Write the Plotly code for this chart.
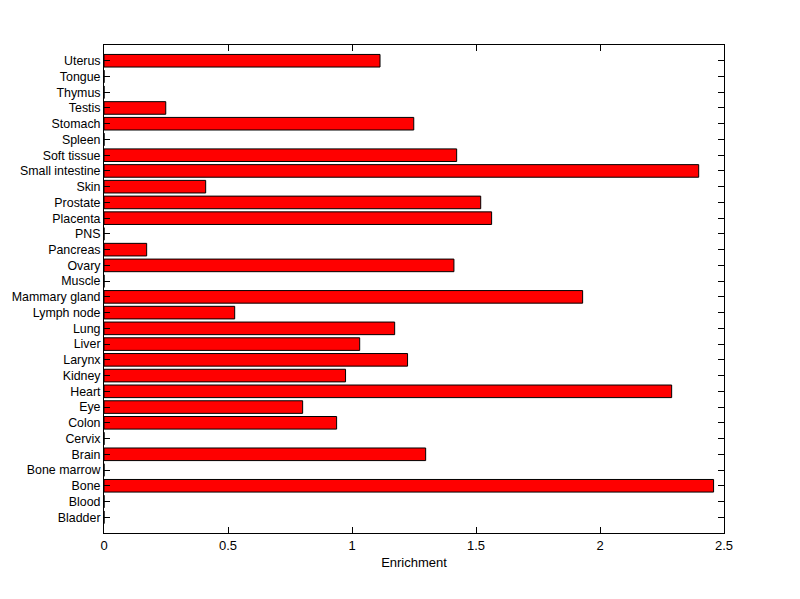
import plotly.graph_objects as go

categories = ["Bladder", "Blood", "Bone", "Bone marrow", "Brain", "Cervix", "Colon", "Eye",
              "Heart", "Kidney", "Larynx", "Liver", "Lung", "Lymph node", "Mammary gland",
              "Muscle", "Ovary", "Pancreas", "PNS", "Placenta", "Prostate", "Skin",
              "Small intestine", "Soft tissue", "Spleen", "Stomach", "Testis", "Thymus",
              "Tongue", "Uterus"]
enrichment = [0, 0, 2.458, 0, 1.297, 0, 0.938, 0.801,
              2.289, 0.974, 1.224, 1.031, 1.172, 0.527, 1.930,
              0, 1.411, 0.172, 0, 1.563, 1.519, 0.410,
              2.398, 1.422, 0, 1.249, 0.249, 0,
              0, 1.113]
x_ticks = [0, 0.5, 1, 1.5, 2, 2.5]
x_tick_labels = ["0", "0.5", "1", "1.5", "2", "2.5"]

positions = list(range(1, len(categories) + 1))

fig = go.Figure(go.Bar(
    x=enrichment, y=positions, orientation="h", width=0.8,
    marker=dict(color="#FF0000", line=dict(color="black", width=1)),
))

font = dict(family="Liberation Sans, Arial, sans-serif", size=13, color="black")
yfont = dict(family="Liberation Sans, Arial, sans-serif", size=12.4, color="black")
fig.update_layout(
    width=800, height=599,
    margin=dict(l=96, r=84, t=37, b=74, autoexpand=False),
    paper_bgcolor="white", plot_bgcolor="white",
    font=font, showlegend=False,
    xaxis=dict(range=[0, 2.5], tickvals=x_ticks, ticktext=x_tick_labels,
               ticks="inside", ticklen=6, tickcolor="black", tickwidth=1,
               showline=True, linecolor="black", linewidth=1, mirror="allticks",
               showgrid=False, zeroline=False,
               title=dict(text="Enrichment", standoff=6, font=font)),
    yaxis=dict(range=[0, len(categories) + 1], tickvals=positions, ticktext=categories,
               ticks="inside", ticklen=6, tickcolor="black", tickwidth=1,
               showline=True, linecolor="black", linewidth=1, mirror="allticks",
               showgrid=False, zeroline=False, ticklabelstandoff=0, tickfont=yfont),
)

fig.write_html("out.html")
